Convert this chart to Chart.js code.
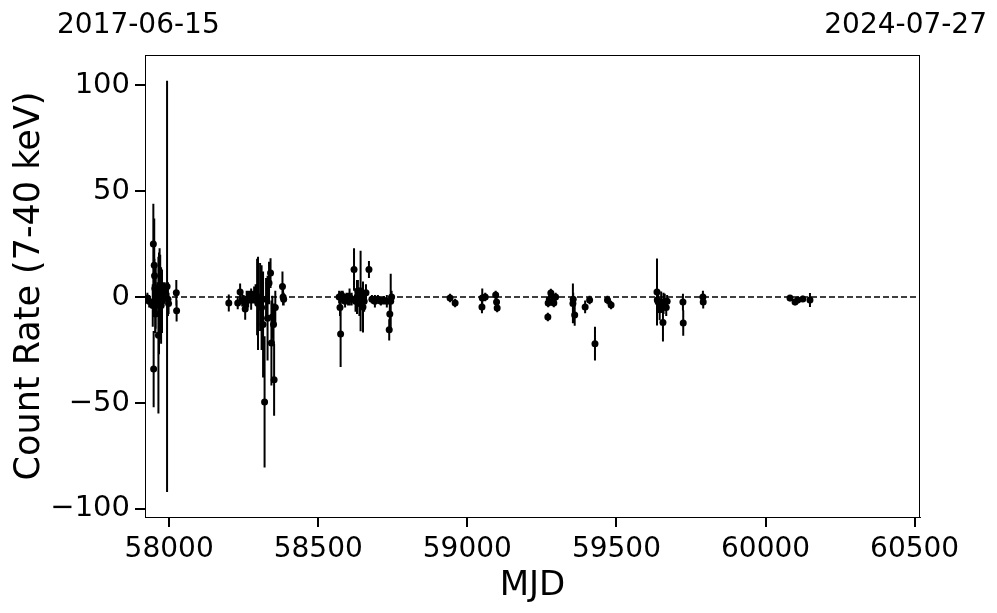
<!DOCTYPE html>
<html>
<head>
<meta charset="utf-8">
<script src="https://cdn.jsdelivr.net/npm/chart.js@4.4.1/dist/chart.umd.min.js"></script>
<style>
  html, body { margin: 0; padding: 0; background: #fff; }
  #wrap { width: 997px; height: 613px; }
</style>
</head>
<body>
<div id="wrap"><canvas id="lc" width="997" height="613"></canvas></div>
<script>
// light curve, one entry per observation
const mjd = [
  57927, 57933, 57945, 57947, 57948, 57950, 57951, 57952, 57953, 57954, 57955, 57957,
  57960, 57962, 57964, 57966, 57968, 57970, 57973, 57976, 57980, 57985, 57993, 57996,
  57998, 58024, 58025,
  58200, 58230, 58238, 58245, 58250, 58255, 58260, 58265, 58270, 58275, 58280, 58285,
  58290, 58295, 58298, 58305, 58310, 58315, 58320, 58325, 58330, 58335, 58340, 58343,
  58346, 58350, 58352, 58356, 58380, 58382, 58384,
  58570, 58573, 58575, 58578, 58582, 58586, 58590, 58595, 58600, 58605, 58612, 58620,
  58625, 58630, 58633, 58638, 58642, 58645, 58650, 58654, 58660, 58670, 58680, 58690,
  58700, 58710, 58720, 58730, 58738, 58740, 58743, 58746,
  58942, 58959, 59049, 59050, 59060, 59095, 59098, 59100,
  59270, 59271, 59275, 59280, 59285, 59290, 59296, 59354, 59355, 59360, 59395, 59410,
  59428, 59470, 59482,
  59636, 59637, 59640, 59645, 59656, 59650, 59658, 59662, 59667, 59670, 59723, 59724,
  59790, 59791,
  60082, 60099, 60108, 60125, 60149
]
const rate = [
  -0.5, -2, -4, 25, -34, 15, 10, 4, -4, -8, 0, -3,
  -1, 2, -18, -3, 5, 0, -4, -2, 1, 3, 5, -1,
  -3, 2, -6.5,
  -2.8, -2.8, 2.4, -1.5, -2, -5.7, -1, -1, 0, -1, 0, 1,
  1, 0, -3, 0, -5, -13, -49.5, -1, -10, 6.6, 11.3, -21.7,
  -9.4, -13, -39, -5, 5, 0, -1,
  0, -5, -17.5, 1, 0, -1, -2, 0, -1, 0, -1, 13,
  -2, 0, 3, -3, 2.8, -1, -4.7, -2, 2, 13, -1, -2,
  -1, -2, -1.5, -2, -15.5, -8, -2, 0,
  -0.5, -2.8, -4.7, -0.5, 0, 1, -2.4, -5.2,
  -9.4, -2.8, -1, 1.9, -0.5, -2.8, 0, -3, -1, -8.5, -4.7, -1.4,
  -22, -1.4, -3.8,
  2.4, -1.4, -2.4, -6, -12, -2.4, -3, -2.4, -5, -2, -2.4, -12.3,
  0, -2.4,
  -0.5, -2.4, -1.4, -0.9, -1.4
]
const rateErr = [
  2.5, 3, 10, 19, 18, 22, 8, 12, 12, 9, 15, 6,
  4, 5, 37, 24, 18, 20, 18, 15, 6, 4, 97, 8,
  5, 6, 5,
  4, 3, 4, 3, 3, 5, 4, 4, 3, 5, 3, 4,
  5, 18, 22, 16, 20, 25, 31, 10, 20, 10, 7, 20,
  10, 10, 17, 8, 7, 4, 3,
  3, 4, 15.5, 2, 3, 2, 3, 2, 3, 4, 3, 10,
  5, 8, 5, 6, 19, 3, 12, 5, 4, 4, 2, 3,
  2, 2, 2, 3, 5, 6, 13, 3,
  2, 2, 3, 4.5, 2, 2, 2, 2,
  2, 2, 2, 2, 2, 2, 2, 9.4, 3, 5, 3, 2,
  8, 2, 2,
  15.8, 4, 4, 5, 9, 5, 5, 4, 4, 3, 4, 6,
  3, 3,
  1.5, 1.5, 1.5, 1.5, 3.3
]

const xTickValues = [58000, 58500, 59000, 59500, 60000, 60500]
const yTickValues = [-100, -50, 0, 50, 100]
const dateLabels = ['2017-06-15', '2024-07-27']
const mjdMin = 57919
const mjdMax = 60518
const rateMin = -103.8
const rateMax = 114.2

const FONT = 'DejaVu Sans'

// vertical error bars, drawn under the points
const errorBars = {
  id: 'errorBars',
  beforeDatasetsDraw(chart) {
    const { ctx, scales: { x, y } } = chart
    ctx.save()
    ctx.strokeStyle = '#000'
    ctx.lineWidth = 2
    ctx.beginPath()
    mjd.forEach((t, i) => {
      const px = x.getPixelForValue(t)
      ctx.moveTo(px, y.getPixelForValue(rate[i] + rateErr[i]))
      ctx.lineTo(px, y.getPixelForValue(rate[i] - rateErr[i]))
    })
    ctx.stroke()
    ctx.restore()
  }
}

// closed box around the plot + calendar dates of the axis ends
const frameAndDates = {
  id: 'frameAndDates',
  afterDraw(chart) {
    const { ctx, chartArea: a } = chart
    ctx.save()
    ctx.strokeStyle = '#000'
    ctx.lineWidth = 1
    ctx.strokeRect(a.left + 0.5, a.top + 0.5, a.right - a.left - 1, a.bottom - a.top)
    ctx.fillStyle = '#000'
    ctx.font = '28px "' + FONT + '"'
    ctx.textBaseline = 'alphabetic'
    ctx.textAlign = 'left'
    ctx.fillText(dateLabels[0], 57, 33)
    ctx.textAlign = 'right'
    ctx.fillText(dateLabels[1], 987, 33)
    ctx.restore()
  }
}

const tickGrid = {
  drawOnChartArea: false,
  drawTicks: true,
  tickLength: 10,
  color: '#000',
  lineWidth: 2
}

new Chart(document.getElementById('lc'), {
  type: 'scatter',
  data: {
    datasets: [
      {
        label: 'zero',
        data: [{ x: mjdMin, y: 0 }, { x: mjdMax, y: 0 }],
        showLine: true,
        borderColor: '#000',
        borderWidth: 1.5,
        borderDash: [6, 3],
        pointRadius: 0
      },
      {
        label: 'rate',
        data: mjd.map((t, i) => ({ x: t, y: rate[i] })),
        backgroundColor: '#000',
        borderWidth: 0,
        pointRadius: 3.5
      }
    ]
  },
  options: {
    responsive: false,
    devicePixelRatio: 1,
    animation: false,
    layout: { padding: { left: 8, right: 77, top: 55, bottom: 0 } },
    plugins: { legend: { display: false }, tooltip: { enabled: false } },
    scales: {
      x: {
        type: 'linear',
        min: mjdMin,
        max: mjdMax,
        grid: tickGrid,
        border: { display: true, color: '#000', width: 1 },
        afterBuildTicks: scale => { scale.ticks = xTickValues.map(v => ({ value: v })) },
        afterFit: scale => { scale.height = 96 },
        ticks: { color: '#000', padding: 6, maxRotation: 0, font: { family: FONT, size: 28 }, callback: v => String(v) },
        title: { display: true, text: 'MJD', color: '#000', padding: { top: 0, bottom: 6 }, font: { family: FONT, size: 34 } }
      },
      y: {
        min: rateMin,
        max: rateMax,
        grid: tickGrid,
        border: { display: true, color: '#000', width: 1 },
        afterBuildTicks: scale => { scale.ticks = yTickValues.map(v => ({ value: v })) },
        afterFit: scale => { scale.width = 137 },
        ticks: { color: '#000', padding: 5, font: { family: FONT, size: 29 }, callback: v => v < 0 ? '\u2212' + Math.abs(v) : String(v) },
        title: { display: true, text: 'Count Rate (7-40 keV)', color: '#000', padding: { top: 1, bottom: 0 }, font: { family: FONT, size: 35 } }
      }
    }
  },
  plugins: [errorBars, frameAndDates]
})
</script>
</body>
</html>
